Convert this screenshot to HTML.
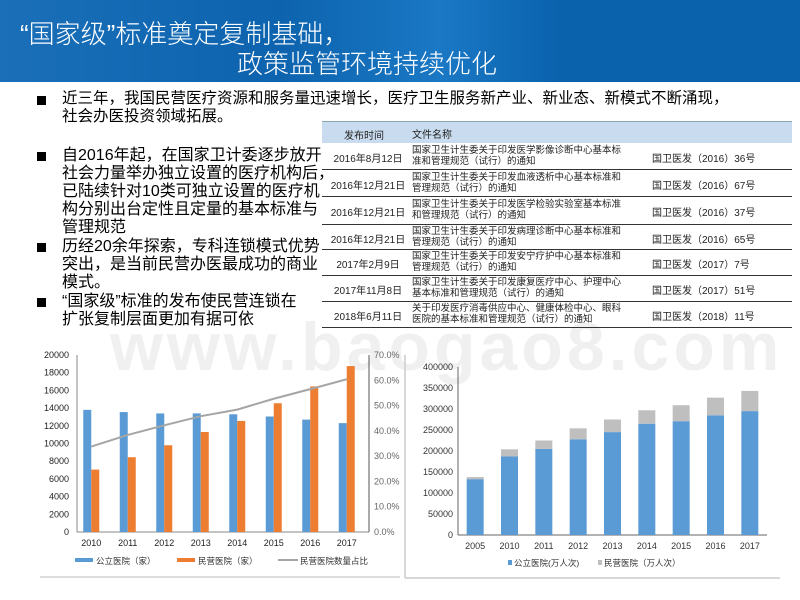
<!DOCTYPE html>
<html><head><meta charset="utf-8">
<style>
*{margin:0;padding:0;box-sizing:border-box}
body{width:800px;height:600px;overflow:hidden;background:#fff;font-family:"Liberation Sans","Noto Sans CJK SC",sans-serif;position:relative}
.hdr{position:absolute;left:0;top:0;width:800px;height:82px;background:linear-gradient(90deg,#1a6fb8 0%,#0d63ae 35%,#1a78c4 55%,#0a62ad 70%,#0a62ad 100%)}
.t{position:absolute;color:#fff;font-size:26px;white-space:nowrap;font-family:"Liberation Sans","Noto Sans CJK SC",sans-serif;font-weight:300}
.txt{position:absolute;font-size:16px;line-height:18px;color:#000;white-space:nowrap}
.b{position:absolute;width:9px;height:9px;background:#000}
.tbl{position:absolute;left:322px;top:121px;width:470px;font-size:10px;color:#222}
.wm{position:absolute;left:110px;top:308px;font-size:68px;color:#f0f0f0;font-weight:bold;letter-spacing:4px;white-space:nowrap}
</style></head><body>
<div class="hdr"></div>
<div class="t" style="left:20px;top:14px">“国家级”标准奠定复制基础，</div>
<div class="t" style="left:237px;top:44px">政策监管环境持续优化</div>
<div class="wm">www.baogao8.com</div>

<div class="b" style="left:37px;top:96px"></div>
<div class="txt" style="left:62px;top:90px;font-size:15.5px">近三年，我国民营医疗资源和服务量迅速增长，医疗卫生服务新产业、新业态、新模式不断涌现，<br>社会办医投资领域拓展。</div>

<div class="b" style="left:37px;top:152px"></div>
<div class="txt" style="left:62px;top:147px">自2016年起，在国家卫计委逐步放开<br>社会力量举办独立设置的医疗机构后，<br>已陆续针对10类可独立设置的医疗机<br>构分别出台定性且定量的基本标准与<br>管理规范</div>
<div class="b" style="left:37px;top:243px"></div>
<div class="txt" style="left:62px;top:238px">历经20余年探索，专科连锁模式优势<br>突出，是当前民营办医最成功的商业<br>模式。</div>
<div class="b" style="left:37px;top:298px"></div>
<div class="txt" style="left:62px;top:293px">“国家级”标准的发布使民营连锁在<br>扩张复制层面更加有据可依</div>

<div class="tbl">
<div style="height:22px;background:#c9dcef;border-top:1px solid #8aa;position:relative">
<span style="position:absolute;left:22px;top:5px">发布时间</span><span style="position:absolute;left:90px;top:4px">文件名称</span></div>
<div id="rows"></div>
</div>

<svg id="c1" style="position:absolute;left:0;top:0" width="800" height="600"></svg>

<script>
const rowDates=["2016年8月12日","2016年12月21日","2016年12月21日","2016年12月21日","2017年2月9日","2017年11月8日","2018年6月11日"];
const rowNames=[["国家卫生计生委关于印发医学影像诊断中心基本标","准和管理规范（试行）的通知"],["国家卫生计生委关于印发血液透析中心基本标准和","管理规范（试行）的通知"],["国家卫生计生委关于印发医学检验实验室基本标准","和管理规范（试行）的通知"],["国家卫生计生委关于印发病理诊断中心基本标准和","管理规范（试行）的通知"],["国家卫生计生委关于印发安宁疗护中心基本标准和","管理规范（试行）的通知"],["国家卫生计生委关于印发康复医疗中心、护理中心","基本标准和管理规范（试行）的通知"],["关于印发医疗消毒供应中心、健康体检中心、眼科","医院的基本标准和管理规范（试行）的通知"]];
const rowCodes=["国卫医发（2016）36号","国卫医发（2016）67号","国卫医发（2016）37号","国卫医发（2016）65号","国卫医发（2017）7号","国卫医发（2017）51号","国卫医发（2018）11号"];
const rh=[27,27,28,25,26,26,26];
const rows=document.getElementById('rows');
rowDates.forEach((d,i)=>{
 const r=document.createElement('div');
 
 
 r.style.cssText='position:relative;height:'+rh[i]+'px;border-bottom:1.5px solid #333';
 r.innerHTML='<span style="position:absolute;left:0;width:92px;text-align:center;top:'+(rh[i]/2-7)+'px">'+d+'</span><span style="position:absolute;left:90px;top:'+(rh[i]/2-12)+'px;line-height:11px;font-size:9.5px">'+rowNames[i][0]+'<br>'+rowNames[i][1]+'</span><span style="position:absolute;left:330px;top:'+(rh[i]/2-7)+'px">'+rowCodes[i]+'</span>';
 rows.appendChild(r);
});

// Left chart data
const years1=["2010","2011","2012","2013","2014","2015","2016","2017"];
const publicHosp=[13800,13550,13400,13400,13300,13050,12700,12300];
const privateHosp=[7050,8450,9800,11300,12550,14550,16450,18750];
const privateShare=[33.8,38.4,42.2,45.8,48.4,52.7,56.5,60.4];
const yTicks1=[0,2000,4000,6000,8000,10000,12000,14000,16000,18000,20000];
const y2Ticks1=[0,10,20,30,40,50,60,70];
// Right chart data
const years2=["2005","2010","2011","2012","2013","2014","2015","2016","2017"];
const publicVisits=[133000,187000,205000,228000,245000,265000,271000,285000,295000];
const privateVisits=[5000,17000,20000,26000,30000,32000,38000,42000,48000];
const yTicks2=[0,50000,100000,150000,200000,250000,300000,350000,400000];

const svg=document.getElementById('c1');
const NS='http://www.w3.org/2000/svg';
function mk(t,a,txt){const e=document.createElementNS(NS,t);for(const k in a)e.setAttribute(k,a[k]);if(txt!==undefined)e.textContent=txt;svg.appendChild(e);return e;}

const L1=77,R1=369,T1=355,B1=532;
const y1=v=>B1-(v/20000)*(B1-T1);
const y1r=v=>B1-(v/70)*(B1-T1);
const bw1=(R1-L1)/years1.length;
const x1=i=>L1+bw1*(i+0.5);
let e;
e=mk('line',{x1:L1,y1:T1,x2:L1,y2:B1,stroke:'#888'});

e=mk('line',{x1:L1,y1:B1,x2:R1,y2:B1,stroke:'#888'});

e=mk('line',{x1:R1,y1:T1,x2:R1,y2:B1,stroke:'#555'});

yTicks1.forEach(v=>{e=mk('text',{x:L1-8,y:y1(v)+3,'text-anchor':'end','font-size':9,fill:'#222'},String(v));
});
y2Ticks1.forEach(v=>{e=mk('text',{x:R1+5,y:y1r(v)+3,'font-size':9,fill:'#666'},v.toFixed(1)+'%');
});
years1.forEach((y,i)=>{
 e=mk('rect',{x:x1(i)-12,y:y1(publicHosp[i]),width:8,height:B1-y1(publicHosp[i]),fill:'#5b9bd5'});
 
 e=mk('rect',{x:x1(i)-4,y:y1(privateHosp[i]),width:8,height:B1-y1(privateHosp[i]),fill:'#ed7d31'});
 
 e=mk('text',{x:x1(i)-4,y:B1+14,'text-anchor':'middle','font-size':9,fill:'#222'},y);
 
});
e=mk('polyline',{points:privateShare.map((v,i)=>(x1(i)-4)+','+y1r(v)).join(' '),fill:'none',stroke:'#a5a5a5','stroke-width':2});

e=mk('rect',{x:75,y:558,width:18,height:4,fill:'#5b9bd5'});
e=mk('text',{x:96,y:564,'font-size':8.5,fill:'#333'},'公立医院（家）');
e=mk('rect',{x:177,y:558,width:18,height:4,fill:'#ed7d31'});
e=mk('text',{x:198,y:564,'font-size':8.5,fill:'#333'},'民营医院（家）');
e=mk('line',{x1:278,y1:560,x2:298,y2:560,stroke:'#a5a5a5','stroke-width':2});
e=mk('text',{x:300,y:564,'font-size':8.5,fill:'#333'},'民营医院数量占比');
e=mk('line',{x1:40,y1:577,x2:400,y2:577,stroke:'#ddd','stroke-width':2});

const L2=458,R2=767,T2=367,B2=535;
const y2=v=>B2-(v/400000)*(B2-T2);
const bw2=(R2-L2)/years2.length;
const x2=i=>L2+bw2*(i+0.5);
e=mk('line',{x1:405,y1:355,x2:405,y2:578,stroke:'#ccc','stroke-width':1.5});
e=mk('line',{x1:405,y1:578,x2:780,y2:578,stroke:'#ccc','stroke-width':1.5});
e=mk('line',{x1:L2,y1:T2,x2:L2,y2:B2,stroke:'#666'});
e=mk('line',{x1:L2,y1:B2,x2:R2,y2:B2,stroke:'#666'});
yTicks2.forEach(v=>{e=mk('text',{x:L2-5,y:y2(v)+3,'text-anchor':'end','font-size':9,fill:'#333'},String(v));
});
years2.forEach((y,i)=>{
 const tot=publicVisits[i]+privateVisits[i];
 e=mk('rect',{x:x2(i)-8.5,y:y2(publicVisits[i]),width:17,height:B2-y2(publicVisits[i]),fill:'#5b9bd5'});
 
 e=mk('rect',{x:x2(i)-8.5,y:y2(tot),width:17,height:y2(publicVisits[i])-y2(tot),fill:'#bfbfbf'});
 
 e=mk('text',{x:x2(i),y:B2+14,'text-anchor':'middle','font-size':9,fill:'#333'},y);
 
});
e=mk('rect',{x:508,y:560,width:4,height:5,fill:'#5b9bd5'});
e=mk('text',{x:514,y:566,'font-size':8.5,fill:'#333'},'公立医院(万人次)');
e=mk('rect',{x:598,y:560,width:4,height:5,fill:'#bfbfbf'});
e=mk('text',{x:604,y:566,'font-size':8.5,fill:'#333'},'民营医院（万人次）');
</script>
</body></html>
